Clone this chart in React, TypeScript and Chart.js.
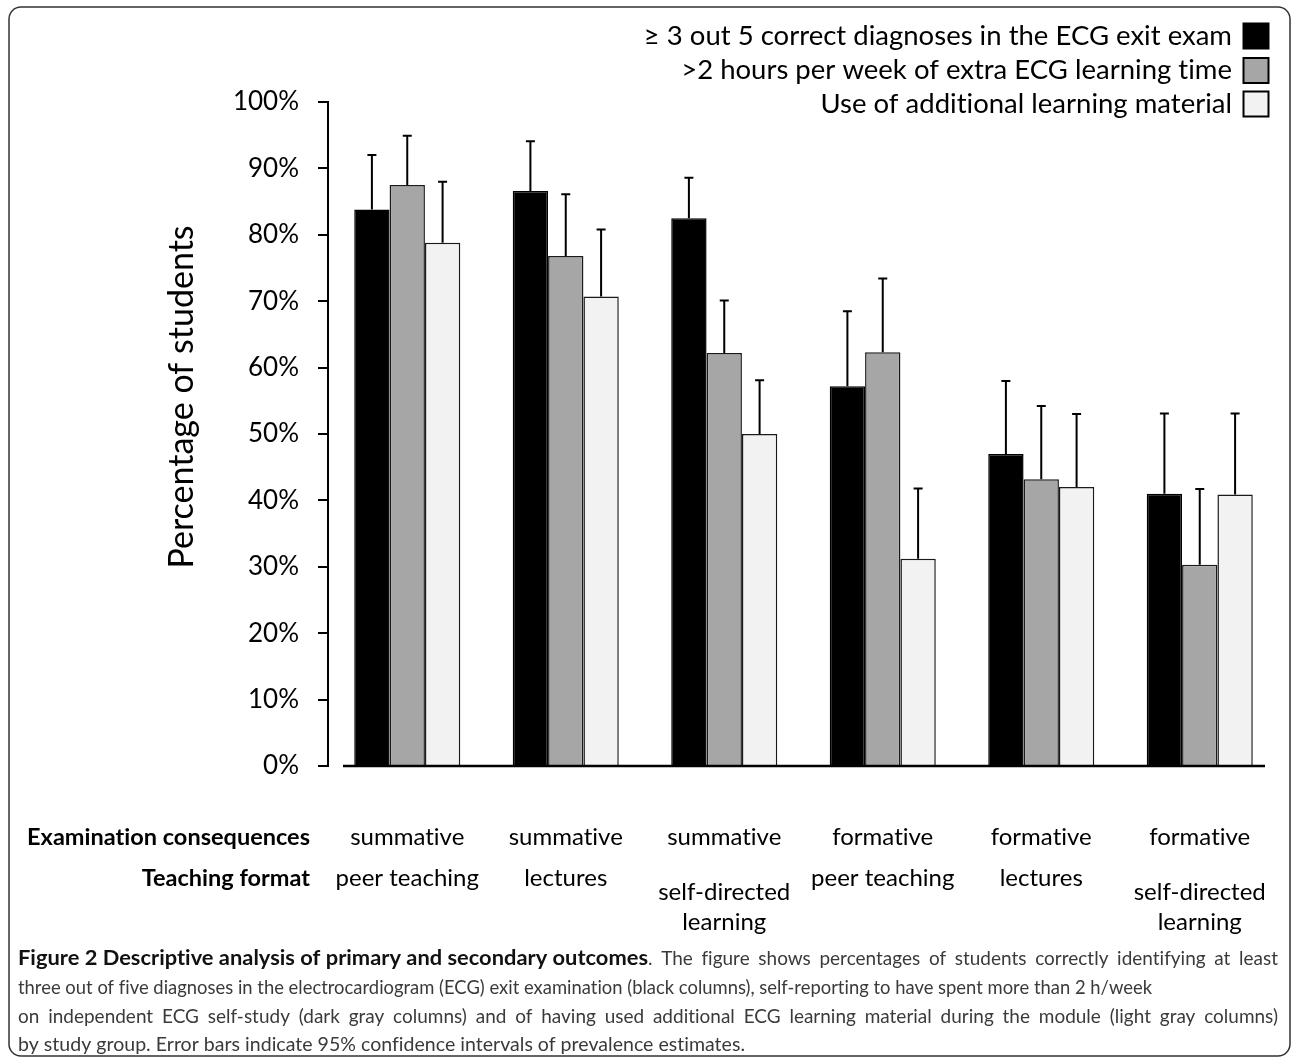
import React, { useEffect, useRef } from "react";
import { Chart, registerables } from "chart.js";
Chart.register(...registerables);

// ---- data ----
const examConsequences = ["summative", "summative", "summative", "formative", "formative", "formative"];
const teachingFormat = ["peer teaching", "lectures", "self-directed learning", "peer teaching", "lectures", "self-directed learning"];
const teachingFormatLines = [["peer teaching"], ["lectures"], ["self-directed", "learning"], ["peer teaching"], ["lectures"], ["self-directed", "learning"]];

const seriesLabels = [
  "\u2265 3 out 5 correct diagnoses in the ECG exit exam",
  ">2 hours per week of extra ECG learning time",
  "Use of additional learning material",
];
const correctDiagnoses = [83.8, 86.6, 82.5, 57.2, 47.0, 41.0];
const correctDiagnosesUpper = [92.0, 94.1, 88.6, 68.5, 58.0, 53.1];
const extraLearningTime = [87.5, 76.8, 62.2, 62.3, 43.2, 30.3];
const extraLearningTimeUpper = [94.9, 86.1, 70.1, 73.4, 54.2, 41.7];
const additionalMaterial = [78.8, 70.7, 50.0, 31.2, 42.0, 40.9];
const additionalMaterialUpper = [88.0, 80.8, 58.1, 41.8, 53.0, 53.1];

const yTickValues = [0, 10, 20, 30, 40, 50, 60, 70, 80, 90, 100];
const yTitle = "Percentage of students";
const rowTitles = ["Examination consequences", "Teaching format"];

const captionBold = "Figure 2 Descriptive analysis of primary and secondary outcomes";
const captionLines = [
  ". The figure shows percentages of students correctly identifying at least",
  "three out of five diagnoses in the electrocardiogram (ECG) exit examination (black columns), self-reporting to have spent more than 2 h/week",
  "on independent ECG self-study (dark gray columns) and of having used additional ECG learning material during the module (light gray columns)",
  "by study group. Error bars indicate 95% confidence intervals of prevalence estimates.",
];

const colors = ["#000000", "#a6a6a6", "#f2f2f2"];
const uppers = [correctDiagnosesUpper, extraLearningTimeUpper, additionalMaterialUpper];

const W = 1292;
const H = 1057;
const CHART_FONT = "Lato, 'Open Sans', sans-serif";
const CAPTION_FONT = "Lato, 'Open Sans', sans-serif";

// draw text horizontally scaled by sx; if width given, justify to that width
function drawScaled(ctx: CanvasRenderingContext2D, text: string, x: number, y: number, sx: number, width?: number) {
  ctx.save();
  ctx.translate(x, y);
  ctx.scale(sx, 1);
  if (width === undefined) {
    ctx.fillText(text, 0, 0);
  } else {
    const words = text.split(" ");
    const total = words.reduce((s, w) => s + ctx.measureText(w).width, 0);
    const gap = (width / sx - total) / (words.length - 1);
    let cx = 0;
    for (const w of words) {
      ctx.fillText(w, cx, 0);
      cx += ctx.measureText(w).width + gap;
    }
  }
  ctx.restore();
}

const overlay = {
  id: "overlay",
  beforeDraw(chart: any) {
    const ctx = chart.ctx;
    ctx.save();
    ctx.fillStyle = "#fff";
    ctx.fillRect(0, 0, chart.width, chart.height);
    ctx.restore();
  },
  afterDatasetsDraw(chart: any) {
    const ctx = chart.ctx;
    const y = chart.scales.y;
    ctx.save();
    ctx.strokeStyle = "#000";
    ctx.lineWidth = 2;
    for (let i = 0; i < 3; i++) {
      const meta = chart.getDatasetMeta(i);
      meta.data.forEach((el: any, j: number) => {
        const top = y.getPixelForValue(uppers[i][j]);
        ctx.beginPath();
        ctx.moveTo(el.x, el.y);
        ctx.lineTo(el.x, top);
        ctx.moveTo(el.x - 4.5, top);
        ctx.lineTo(el.x + 4.5, top);
        ctx.stroke();
      });
    }
    const ca = chart.chartArea;
    const y0 = y.getPixelForValue(0);
    ctx.lineWidth = 2.5;
    ctx.beginPath();
    ctx.moveTo(ca.left + 15, y0);
    ctx.lineTo(ca.right - 14, y0);
    ctx.stroke();
    ctx.restore();
  },
  afterDraw(chart: any) {
    const ctx: CanvasRenderingContext2D = chart.ctx;
    const x = chart.scales.x;
    ctx.save();
    (ctx as any).letterSpacing = "0.01px";
    ctx.fillStyle = "#000";

    // y title
    ctx.save();
    ctx.translate(182, 397);
    ctx.rotate(-Math.PI / 2);
    ctx.font = `34px ${CHART_FONT}`;
    ctx.textAlign = "center";
    ctx.textBaseline = "middle";
    ctx.fillText(yTitle, 0, 0);
    ctx.restore();

    // legend
    const legendY = [36, 70.5, 104];
    ctx.font = `27.5px ${CHART_FONT}`;
    ctx.textAlign = "right";
    ctx.textBaseline = "middle";
    seriesLabels.forEach((lab, i) => {
      ctx.fillStyle = "#000";
      ctx.fillText(lab, 1232, legendY[i]);
      ctx.fillStyle = colors[i];
      ctx.fillRect(1243.5, legendY[i] - 12.5, 25, 25);
      ctx.strokeStyle = "#000";
      ctx.lineWidth = 2;
      ctx.strokeRect(1243.5, legendY[i] - 12.5, 25, 25);
    });

    // row titles
    ctx.fillStyle = "#000";
    ctx.font = `bold 23.5px ${CHART_FONT}`;
    ctx.textAlign = "right";
    ctx.fillText(rowTitles[0], 310, 837);
    ctx.fillText(rowTitles[1], 310, 878);

    ctx.font = `24px ${CHART_FONT}`;
    ctx.textAlign = "center";
    examConsequences.forEach((lab, i) => {
      ctx.fillText(lab, x.getPixelForValue(i), 837);
    });
    teachingFormatLines.forEach((lines, i) => {
      const cx = x.getPixelForValue(i);
      if (lines.length === 1) ctx.fillText(lines[0], cx, 878);
      else {
        ctx.fillText(lines[0], cx, 892);
        ctx.fillText(lines[1], cx, 922);
      }
    });

    // caption
    const capX = 18;
    const capRight = 1278;
    const lineYs = [959, 988, 1017, 1045];
    ctx.textAlign = "left";
    ctx.textBaseline = "middle";
    ctx.font = `bold 20px ${CAPTION_FONT}`;
    ctx.fillStyle = "#111";
    const bw = 630;
    const bsx = bw / ctx.measureText(captionBold).width;
    drawScaled(ctx, captionBold, capX, lineYs[0], bsx);
    ctx.font = `20px ${CAPTION_FONT}`;
    ctx.fillStyle = "#3a3a3a";
    const sx2 = 1134 / ctx.measureText(captionLines[1]).width;
    const sx4 = 727 / ctx.measureText(captionLines[3]).width;
    const sxm = (sx2 + sx4) / 2;
    drawScaled(ctx, captionLines[0], capX + bw, lineYs[0], sxm, capRight - capX - bw);
    drawScaled(ctx, captionLines[1], capX, lineYs[1], sx2);
    drawScaled(ctx, captionLines[2], capX, lineYs[2], sxm, capRight - capX);
    drawScaled(ctx, captionLines[3], capX, lineYs[3], sx4);

    // figure border
    ctx.strokeStyle = "#333";
    ctx.lineWidth = 1.5;
    ctx.beginPath();
    (ctx as any).roundRect(9, 7, 1281, 1049, 12);
    ctx.stroke();
    ctx.restore();
  },
};

export default function App() {
  const ref = useRef<HTMLCanvasElement | null>(null);
  useEffect(() => {
    document.body.style.margin = "0";
    const canvas = ref.current!;
    const chart = new Chart(canvas, {
      type: "bar",
      data: {
        labels: teachingFormat,
        datasets: [
          { label: seriesLabels[0], data: correctDiagnoses, backgroundColor: colors[0], borderColor: "#000", borderWidth: 1.5 },
          { label: seriesLabels[1], data: extraLearningTime, backgroundColor: colors[1], borderColor: "#1a1a1a", borderWidth: 1.5 },
          { label: seriesLabels[2], data: additionalMaterial, backgroundColor: colors[2], borderColor: "#1a1a1a", borderWidth: 1.5 },
        ],
      },
      options: {
        responsive: false,
        animation: false,
        devicePixelRatio: 1,
        layout: { padding: { left: 0, top: 102, right: 13, bottom: H - 766 } },
        plugins: { legend: { display: false }, tooltip: { enabled: false }, title: { display: false } },
        datasets: { bar: { barPercentage: 1, categoryPercentage: 0.669 } },
        scales: {
          x: { display: false },
          y: {
            min: 0,
            max: 100,
            afterFit: (s: any) => { s.width = 328; },
            afterBuildTicks: (s: any) => { s.ticks = yTickValues.map((v) => ({ value: v })); },
            ticks: {
              callback: (v: any) => `${v}%`,
              font: { family: CHART_FONT, size: 26 },
              color: "#000",
              padding: 19,
            },
            grid: { drawOnChartArea: false, drawTicks: true, tickLength: 10, color: "#000", lineWidth: 2 },
            border: { display: true, color: "#000", width: 2 },
          },
        },
      },
      plugins: [overlay],
    });
    return () => chart.destroy();
  }, []);
  return (
    <div style={{ width: W, height: H }}>
      <canvas ref={ref} width={W} height={H} style={{ display: "block" }} />
    </div>
  );
}
